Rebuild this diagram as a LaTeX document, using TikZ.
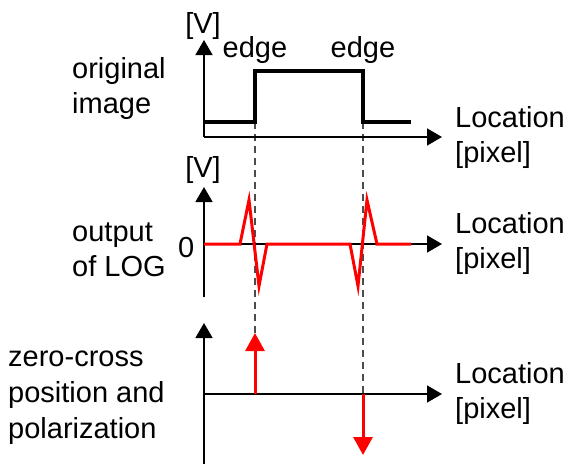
\documentclass[tikz,border=0pt]{standalone}
\usepackage{fontspec}
\setmainfont{Liberation Sans}
\usetikzlibrary{arrows.meta}
\begin{document}
\begin{tikzpicture}[x=1pt,y=-1pt,
  axis/.style={line width=1.5pt,-{Triangle[length=15pt,width=17pt]}},
  sig/.style={line width=3.5pt,black,miter limit=10},
  logsig/.style={line width=3pt,red,line join=miter},
  guide/.style={line width=1.5pt,black!70,dash pattern=on 7pt off 5pt},
  pol/.style={line width=3pt,red,-{Triangle[length=18pt,width=19pt]}},
  lbl/.style={inner sep=0pt,font=\fontsize{29}{35}\selectfont},
  mlbl/.style={lbl,anchor=base west,align=left}]
\useasboundingbox (0,0) rectangle (565,464);
% coordinates
\coordinate (o1) at (204,137); \coordinate (y1) at (204,40); \coordinate (x1) at (442,137);
\coordinate (b2) at (204,297); \coordinate (y2) at (204,187);
\coordinate (o2) at (204,244); \coordinate (x2) at (442,244);
\coordinate (b3) at (204,464); \coordinate (y3) at (204,323);
\coordinate (o3) at (204,394); \coordinate (x3) at (442,394);
\coordinate (eA) at (255,122); \coordinate (eB) at (363,122);
\coordinate (pA) at (255,394); \coordinate (tA) at (255,333);
\coordinate (pB) at (363,394); \coordinate (tB) at (363,455);
% guides
\draw[guide] (eA) -- (tA);
\draw[guide] (eB) -- (pB);
% axes
\draw[axis] (o1) -- (y1);
\draw[axis] (o1) -- (x1);
\draw[axis] (b2) -- (y2);
\draw[axis] (o2) -- (x2);
\draw[axis] (b3) -- (y3);
\draw[axis] (o3) -- (x3);
% original signal
\draw[sig] (204,122) -- (eA) -- (255,71) -- (363,71) -- (eB) -- (411,122);
% LOG output
\draw[logsig] (o2) -- (240,244) -- (249,200) -- (259,286) -- (267,244) -- (350,244)
  -- (358,286) -- (367,200) -- (377,244) -- (411,244);
% polarization arrows
\draw[pol] (pA) -- (tA);
\draw[pol] (pB) -- (tB);
% labels
\node[lbl,anchor=base] (v1) at (203,33) {[V]};
\node[lbl,anchor=base] (v2) at (203,177) {[V]};
\node[lbl,anchor=base] (ed1) at (255,57) {edge};
\node[lbl,anchor=base] (ed2) at (363,57) {edge};
\node[lbl,anchor=base west] (zero) at (178,257) {0};
\node[mlbl] (t1) at (72,113) {original\\image};
\node[mlbl] (t2) at (72,276) {output\\of LOG};
\node[mlbl,font=\fontsize{29}{36}\selectfont] (t3) at (8,438) {zero-cross\\position and\\polarization};
\node[mlbl] (l1) at (455,162) {Location\\{}[pixel]};
\node[mlbl] (l2) at (455,268) {Location\\{}[pixel]};
\node[mlbl] (l3) at (455,418) {Location\\{}[pixel]};
\end{tikzpicture}
\end{document}
